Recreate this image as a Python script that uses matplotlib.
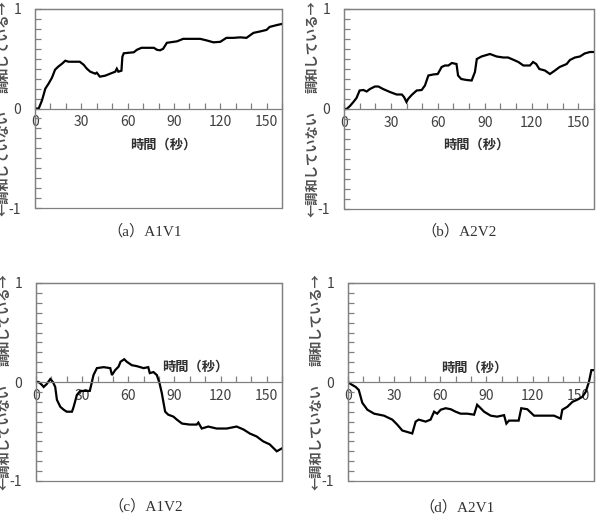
import matplotlib.pyplot as plt
import matplotlib.patches as patches
import matplotlib.transforms as mtransforms
import numpy as np

plt.rcParams['font.family'] = ['Noto Sans CJK JP', 'DejaVu Sans']

# (a) A1V1
t_a = [0, 2.4, 4.5, 6.7, 8.8, 11, 13, 15, 17.5, 19.6, 21.8, 24, 26, 29, 31.5, 33.6, 35.8, 39, 40, 42,
       45.5, 48.7, 52, 53, 54, 56, 56.6, 57.5, 60.6, 64, 66, 69, 72.5, 77, 79, 81, 83, 85.4, 87.5, 92,
       96, 100.5, 107, 111, 115.6, 120, 124, 128.5, 133, 137, 141.5, 146, 150, 152, 157, 160]
v_a = [0, 0, 0.08, 0.2, 0.25, 0.31, 0.39, 0.42, 0.45, 0.48, 0.47, 0.47, 0.47, 0.47, 0.44, 0.40, 0.37, 0.35, 0.36, 0.32,
       0.33, 0.35, 0.37, 0.40, 0.37, 0.38, 0.52, 0.555, 0.56, 0.565, 0.59, 0.61, 0.61, 0.61, 0.59, 0.585, 0.60, 0.66, 0.665, 0.675,
       0.70, 0.70, 0.70, 0.685, 0.665, 0.67, 0.71, 0.71, 0.715, 0.71, 0.76, 0.775, 0.79, 0.82, 0.84, 0.85]

# (b) A2V2
t_b = [0, 1.7, 3.8, 6, 8, 10, 12.4, 14.5, 16.6, 19.8, 22, 25, 29.4, 33.7, 37, 38.4, 40, 41, 43.3, 46.5,
       49.7, 51.8, 54, 57, 60, 62.5, 64.6, 66.8, 69, 72, 73, 75, 78.5, 81.7, 83.8, 85, 88, 93.4, 97.7, 102,
       105, 108, 111.6, 114.8, 119, 121, 123, 125, 128.6, 131.8, 135, 138, 142.5, 144.6, 147.8, 151, 154, 157.4, 160]
v_b = [0, 0, 0.03, 0.07, 0.11, 0.185, 0.19, 0.175, 0.2, 0.225, 0.225, 0.2, 0.17, 0.145, 0.145, 0.12, 0.07, 0.10, 0.14, 0.185,
       0.19, 0.235, 0.335, 0.345, 0.35, 0.42, 0.435, 0.435, 0.46, 0.45, 0.335, 0.30, 0.29, 0.285, 0.37, 0.50, 0.525, 0.55, 0.525, 0.515,
       0.515, 0.495, 0.47, 0.435, 0.435, 0.47, 0.45, 0.40, 0.385, 0.35, 0.385, 0.42, 0.45, 0.49, 0.515, 0.525, 0.555, 0.57, 0.57]

# (c) A1V2
t_c = [0, 1.7, 3.9, 5, 7, 9.3, 11, 12.5, 13.6, 15.8, 18, 20, 23.4, 24.5, 26.6, 28.8, 32, 35, 37.4, 39.6,
       44, 48.3, 49.4, 51.5, 53.7, 55, 57.4, 59, 62.3, 65.6, 70, 73, 74, 76.4, 78.6, 80.3, 81.8, 84, 86, 89.4,
       91.6, 95, 100, 104.5, 105.6, 107.8, 112, 117.5, 124, 130.5, 135, 139, 143.5, 147.8, 152, 156.6, 160]
v_c = [0, 0, -0.03, -0.05, -0.02, 0.03, 0, -0.05, -0.18, -0.25, -0.28, -0.30, -0.30, -0.25, -0.13, -0.09, -0.09, -0.09, 0.07, 0.14,
       0.15, 0.14, 0.07, 0.12, 0.155, 0.205, 0.23, 0.205, 0.17, 0.16, 0.14, 0.15, 0.09, 0.10, 0.07, -0.01, -0.11, -0.30, -0.33, -0.35,
       -0.38, -0.42, -0.43, -0.43, -0.41, -0.47, -0.45, -0.47, -0.47, -0.45, -0.48, -0.52, -0.55, -0.60, -0.63, -0.70, -0.67]

# (d) A2V1
t_d = [0, 1.7, 5, 7, 9.3, 12.6, 17, 23.4, 28.8, 32, 35.3, 39.7, 41.8, 44, 46, 50.5, 53.7, 56, 58, 60.3,
       63.5, 66.8, 70, 73.3, 77.6, 82, 84, 86.3, 88.5, 92.8, 97, 101.5, 103, 104.7, 108, 111, 112.7, 116.6, 121, 127.5,
       134, 138.3, 139.4, 142.7, 146, 149, 152.4, 154.6, 156.7, 158.3, 160]
v_d = [0, -0.02, -0.05, -0.08, -0.21, -0.28, -0.32, -0.34, -0.38, -0.43, -0.49, -0.51, -0.52, -0.40, -0.38, -0.40, -0.38, -0.30, -0.32, -0.28,
       -0.265, -0.275, -0.30, -0.32, -0.32, -0.33, -0.23, -0.265, -0.30, -0.34, -0.35, -0.335, -0.42, -0.39, -0.39, -0.39, -0.265, -0.275, -0.34, -0.34,
       -0.34, -0.37, -0.28, -0.25, -0.20, -0.18, -0.15, -0.10, 0, 0.12, 0.12]

series = [(t_a, v_a), (t_b, v_b), (t_c, v_c), (t_d, v_d)]
captions = ['（a）A1V1', '（b）A2V2', '（c）A1V2', '（d）A2V1']
x_ticks = [0, 30, 60, 90, 120, 150]

# axes boxes in pixels: left, top, right, bottom
W, H = 597, 518
boxes = [(35, 9, 282, 208), (344, 9, 594, 209), (36, 283, 282, 481), (348, 283, 594, 481)]
xlabel_pos = [(0.52, 0.32), (0.53, 0.32), (0.646, 0.576), (0.512, 0.57)]
cap_pos = [(145, 231), (459, 231), (146, 506), (457, 507)]

fig = plt.figure(figsize=(W / 100, H / 100), dpi=100)
gray = '#808080'
txt = '#404040'

for i, (t, v) in enumerate(series):
    l, tp, r, b = boxes[i]
    ax = fig.add_axes([l / W, 1 - b / H, (r - l) / W, (b - tp) / H])
    ax.plot(t, v, color='black', lw=1.6, solid_joinstyle='miter')
    ax.set_xlim(0, 160)
    ax.set_ylim(-1, 1)

    for s in ['top', 'right', 'left']:
        ax.spines[s].set_color(gray)
        ax.spines[s].set_linewidth(0.9)
    ax.spines['bottom'].set_position(('data', 0))
    ax.spines['bottom'].set_color(gray)
    ax.spines['bottom'].set_linewidth(0.9)
    ax.add_patch(patches.Rectangle((0, 0), 1, 1, transform=ax.transAxes, fill=False,
                                   ec=gray, lw=0.9, clip_on=False))

    ax.set_xticks(x_ticks)
    ax.set_xticks(np.arange(0, 161, 10), minor=True)
    ax.set_yticks([-1, 0, 1])
    ax.set_yticklabels(['-1', '0', '1'])
    ax.set_yticks(np.arange(-1, 1.01, 0.1), minor=True)
    ax.tick_params(axis='both', which='both', direction='in', length=4, color=gray, width=0.9)
    ax.tick_params(axis='both', which='major', labelsize=10, labelcolor=txt)
    ax.tick_params(axis='y', pad=10)
    ax.tick_params(axis='x', pad=5)

    ax.text(xlabel_pos[i][0], xlabel_pos[i][1], '時間（秒）', transform=ax.transAxes,
            ha='center', va='center', fontsize=9.5, fontweight='bold', color='#303030')

    # y label (the left panels are cut by the figure edge, as in the original)
    trans = mtransforms.blended_transform_factory(ax.transAxes, ax.transData)
    off = -32 / (r - l)
    ax.text(off, 0.16, '調和している→', transform=trans, rotation=90, rotation_mode='anchor',
            ha='left', va='center', fontsize=9.5, fontweight='bold', color='#505050')
    ax.text(off, -0.02, '←調和していない', transform=trans, rotation=90, rotation_mode='anchor',
            ha='right', va='center', fontsize=9.5, fontweight='bold', color='#505050')

    cx, cy = cap_pos[i]
    fig.text(cx / W, 1 - cy / H, captions[i], ha='center', va='center', fontsize=11,
             family=['Liberation Serif', 'Noto Sans CJK JP'], color='#333333')

fig.savefig('out.png', dpi=100)
